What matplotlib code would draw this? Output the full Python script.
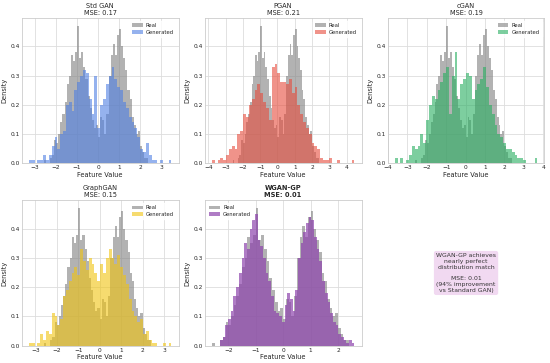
import numpy as np
import matplotlib
matplotlib.use("Agg")
import matplotlib.pyplot as plt
from matplotlib.ticker import MultipleLocator
import seaborn as sns

sns.set_style("whitegrid")
plt.rcParams['font.family'] = ['DejaVu Sans']

# ---------------- data ----------------
# Real distribution histogram (density), 50 bins
real_range = (-2.6, 2.4)
real_density = [0.01, 0.00, 0.00, 0.02, 0.03, 0.08, 0.07, 0.10, 0.14, 0.17,
                0.21, 0.27, 0.30, 0.37, 0.35, 0.38, 0.47, 0.36, 0.38, 0.33,
                0.29, 0.23, 0.19, 0.15, 0.12, 0.13, 0.09, 0.16, 0.15, 0.10,
                0.17, 0.30, 0.37, 0.41, 0.37, 0.44, 0.46, 0.40, 0.36, 0.32,
                0.25, 0.22, 0.16, 0.13, 0.10, 0.11, 0.06, 0.04, 0.02, 0.02]

model_names = ["Std GAN", "PGAN", "cGAN", "GraphGAN", "WGAN-GP"]
mse_values = [0.17, 0.21, 0.19, 0.15, 0.01]
model_colors = ["#4F7FE3", "#E74C3C", "#27AE60", "#F1C40F", "#8E44AD"]

std_gan_range = (-3.3, 3.5)
std_gan_density = [0.01, 0.01, 0.00, 0.01, 0.01, 0.03, 0.01, 0.03, 0.06, 0.09,
                   0.05, 0.10, 0.11, 0.20, 0.21, 0.18, 0.25, 0.28, 0.30, 0.32,
                   0.31, 0.22, 0.17, 0.30, 0.12, 0.20, 0.22, 0.27, 0.30, 0.33,
                   0.29, 0.26, 0.25, 0.21, 0.19, 0.16, 0.14, 0.12, 0.09, 0.05,
                   0.04, 0.07, 0.03, 0.01, 0.01, 0.00, 0.01, 0.00, 0.00, 0.01]

pgan_range = (-3.8, 4.45)
pgan_density = [0.01, 0.00, 0.01, 0.02, 0.01, 0.03, 0.05, 0.06, 0.05, 0.10,
                0.11, 0.17, 0.16, 0.20, 0.22, 0.25, 0.27, 0.24, 0.21, 0.19,
                0.15, 0.33, 0.34, 0.31, 0.28, 0.28, 0.27, 0.29, 0.24, 0.26,
                0.20, 0.17, 0.14, 0.12, 0.10, 0.07, 0.06, 0.05, 0.02, 0.01,
                0.01, 0.02, 0.00, 0.00, 0.01, 0.00, 0.00, 0.00, 0.00, 0.01]

cgan_range = (-3.65, 3.7)
cgan_density = [0.02, 0.00, 0.02, 0.00, 0.01, 0.03, 0.06, 0.05, 0.06, 0.10,
                0.07, 0.15, 0.20, 0.23, 0.22, 0.25, 0.28, 0.31, 0.33, 0.17,
                0.30, 0.38, 0.22, 0.27, 0.29, 0.31, 0.30, 0.22, 0.25, 0.27,
                0.29, 0.33, 0.26, 0.20, 0.17, 0.13, 0.10, 0.09, 0.07, 0.05,
                0.05, 0.04, 0.03, 0.02, 0.02, 0.01, 0.00, 0.00, 0.00, 0.02]

graphgan_range = (-3.3, 3.35)
graphgan_density = [0.01, 0.01, 0.00, 0.01, 0.04, 0.02, 0.05, 0.04, 0.11, 0.10,
                    0.07, 0.09, 0.17, 0.19, 0.22, 0.25, 0.27, 0.24, 0.33, 0.29,
                    0.26, 0.30, 0.28, 0.25, 0.22, 0.28, 0.25, 0.30, 0.33, 0.30,
                    0.28, 0.31, 0.27, 0.24, 0.21, 0.16, 0.12, 0.10, 0.08, 0.09,
                    0.04, 0.05, 0.02, 0.01, 0.01, 0.00, 0.00, 0.01, 0.00, 0.01]

wgan_range = (-2.3, 2.6)
wgan_density = [0.02, 0.03, 0.07, 0.09, 0.12, 0.17, 0.20, 0.25, 0.30, 0.35,
                0.33, 0.40, 0.43, 0.45, 0.36, 0.34, 0.30, 0.25, 0.22, 0.17,
                0.12, 0.11, 0.10, 0.08, 0.14, 0.18, 0.16, 0.12, 0.19, 0.30,
                0.35, 0.39, 0.42, 0.44, 0.43, 0.37, 0.33, 0.29, 0.22, 0.18,
                0.15, 0.11, 0.08, 0.07, 0.04, 0.03, 0.02, 0.01, 0.02, 0.01]

gen_ranges = [std_gan_range, pgan_range, cgan_range, graphgan_range, wgan_range]
gen_densities = [std_gan_density, pgan_density, cgan_density, graphgan_density, wgan_density]

summary_text = ("WGAN-GP achieves\nnearly perfect\ndistribution match\n\n"
                "MSE: 0.01\n(94% improvement\nvs Standard GAN)")

# ---------------- figure ----------------
fig, axes = plt.subplots(2, 3, figsize=(5.5, 3.63), dpi=100)
fig.subplots_adjust(left=0.0395, right=0.99, top=0.950, bottom=0.048,
                    wspace=0.166, hspace=0.255)

def draw_hist(ax, rng, dens, **kw):
    edges = np.linspace(rng[0], rng[1], len(dens) + 1)
    centers = (edges[:-1] + edges[1:]) / 2
    ax.hist(centers, bins=edges, weights=dens, edgecolor="none", linewidth=0, **kw)

flat = axes.flatten()
for i, ax in enumerate(flat[:5]):
    bold = model_names[i] == "WGAN-GP"
    draw_hist(ax, real_range, real_density, color="gray", alpha=0.6, label="Real")
    draw_hist(ax, gen_ranges[i], gen_densities[i], color=model_colors[i],
              alpha=0.7 if bold else 0.6, label="Generated")
    ax.set_title(f"{model_names[i]}\nMSE: {mse_values[i]:.2f}", fontsize=4.8,
                 fontweight="bold" if bold else "normal", pad=2.5,
                 linespacing=1.15, color="#262626")
    ax.set_xlabel("Feature Value", fontsize=4.8, labelpad=1, color="#262626")
    ax.set_ylabel("Density", fontsize=4.8, labelpad=2, color="#262626")
    ax.tick_params(labelsize=4.2, pad=1.5, length=0, colors="#262626")
    ax.xaxis.set_major_locator(MultipleLocator(1))
    ax.set_ylim(0, 0.497)
    ax.set_yticks([0.0, 0.1, 0.2, 0.3, 0.4])
    ax.grid(True, color="#dddddd", linewidth=0.6)
    for s in ax.spines.values():
        s.set_color("#cccccc")
        s.set_linewidth(0.6)
    ax.legend(loc="upper left" if bold else "upper right", fontsize=3.8,
              frameon=True, framealpha=0.8, edgecolor="white",
              handlelength=2.0, handleheight=0.6, borderpad=0.4,
              labelspacing=0.35, handletextpad=0.6)

ax6 = flat[5]
ax6.axis("off")
ax6.text(0.5, 0.5, summary_text, transform=ax6.transAxes, ha="center", va="center",
         fontsize=4.4, color="#333333", linespacing=1.2,
         bbox=dict(boxstyle="round,pad=0.35", facecolor="plum", alpha=0.4,
                   edgecolor="none"))

fig.savefig("out.png", dpi=100)
